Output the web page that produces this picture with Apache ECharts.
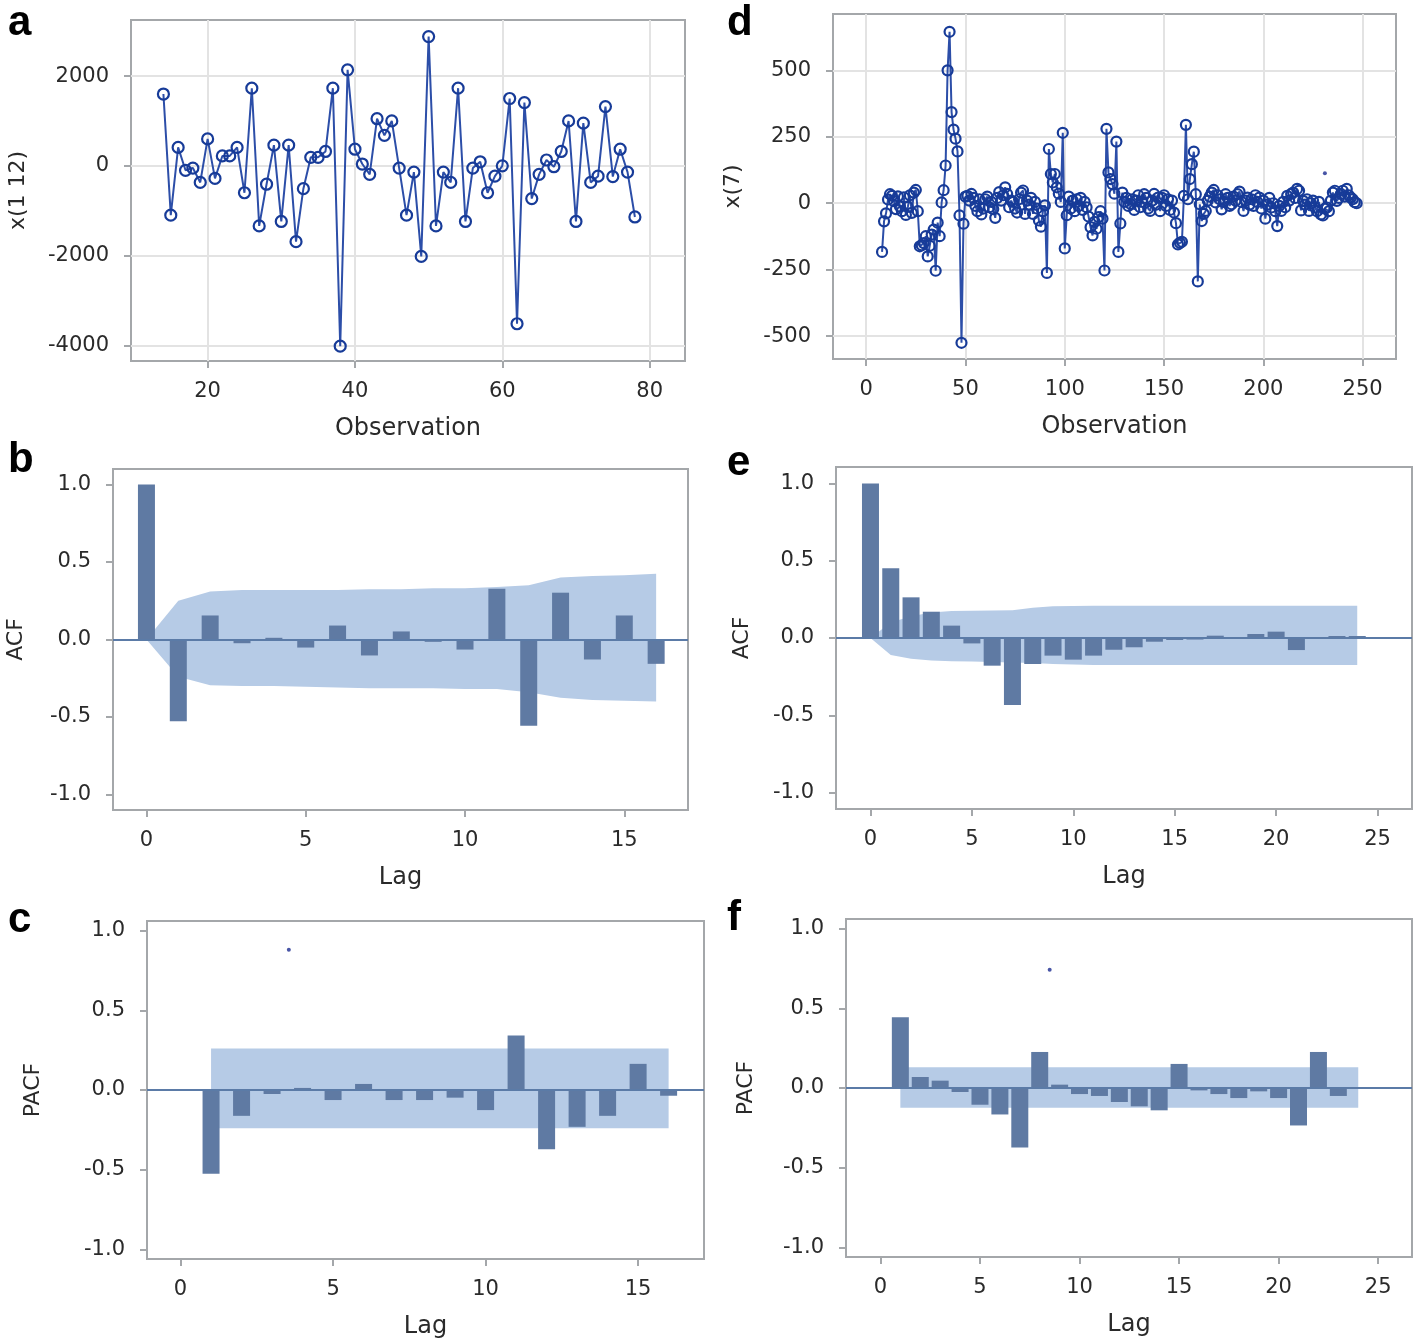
<!DOCTYPE html>
<html>
<head>
<meta charset="utf-8">
<title>x(1 12) and x(7): series, ACF, PACF</title>
<script src="https://cdn.jsdelivr.net/npm/echarts@6.0.0/dist/echarts.min.js"></script>
<style>
  html, body { margin: 0; padding: 0; background: #fff; }
  #chart { width: 1418px; height: 1344px; }
</style>
</head>
<body>
<div id="chart"></div>
<script>
// ---- panel a : x(1 12), observations 14..78
var aFirstObs = 14;
var aValues = [1600, -1100, 410, -100, -50, -370, 600, -280, 220, 220, 410, -600, 1730, -1340,
  -410, 460, -1240, 460, -1690, -510, 190, 190, 320, 1730, -4020, 2140, 370, 40, -190, 1050,
  680, 1000, -50, -1100, -140, -2020, 2880, -1340, -140, -370, 1730, -1240, -50, 90, -600,
  -230, 0, 1500, -3520, 1410, -730, -190, 130, -20, 320, 1000, -1240, 950, -370, -230, 1320,
  -240, 370, -140, -1140];

// ---- panel d : x(7), observations 8..247
var dFirstObs = 8;
var dValues = [
  -183, -68, -38, 14, 34, 28, 8, -22, 26, -12, -30, 22, -44, -14, 30, -36, 40, 50, -30,
  -162, -158, -150, -124, -200, -160, -118, -99, -254, -73, -124, 3, 49, 142, 500, 645, 343,
  277, 243, 195, -46, -525, -77, 25,
  28, 10, 35, 20, -10, -30, 15, -42, -20, 15, 25, -15, 5, -22, -55, 20, 42, 10, 30, 60,
  35, -15, 10, 5, -20, -35, 15, 40, 48, -40, 10, -5, 20, -40, 5, -20, -65, -88, -30, -8,
  -262, 204, 110, 78, 110, 60, 36, 5, 265, -170, -45,
  25, -20, 10, -30, 15, -10, 20, -25, 5, -15, -50, -90, -121, -70, -96, -52, -30, -58,
  -253, 280, 116, 91, 72, 36, 232, -183, -76, 40, 5,
  20, -10, -2, 15, -25, 10, 30, -15, 5, 34, 20, -20, -29, 10, 35, -5, 21, -30, 20, 30,
  -10, 15, -25, 10, -35, -75,
  -155, -149, -145, 28, 295, 15, 91, 147, 194, 34, -294, -4, -67, -40,
  -29, 10, 25, 40, 50, 3, 30, 15, -23, 5, 34, 20, -10, -4, 25, 10, 34, 44, 5, -29,
  10, 21, -5, 15, -10, 30, 5, 21, -20, 10, -58, -5, 20, -16, 0, -30, -86, -10, -29, 5,
  -15, 28, 10, 35, 40, 20, 54, 47, -27, 9, -5, 15, -29, 0, 10, -16, -30, 5, -42, -46,
  -20, -16, -30, 10, 40, 47, 9, 20, 35, 47, 25, 54, 30, 21, 15, 4, 0];
var dStrayPoint = [231, 113];

// ---- panel b : ACF of x(1 12), lags 0..16
var bFirstLag = 0;
var bAcf = [1.0, -0.528, 0.155, -0.024, 0.011, -0.052, 0.09, -0.103, 0.052, -0.015, -0.065,
  0.328, -0.556, 0.302, -0.129, 0.155, -0.157];
var bBandUpper = [0, 0.25, 0.31, 0.32, 0.32, 0.32, 0.32, 0.325, 0.325, 0.33, 0.33, 0.338,
  0.35, 0.40, 0.41, 0.415, 0.425];
var bBandLower = [0, -0.24, -0.295, -0.30, -0.30, -0.305, -0.31, -0.315, -0.315, -0.315,
  -0.32, -0.32, -0.34, -0.375, -0.39, -0.395, -0.40];

// ---- panel e : ACF of x(7), lags 0..24
var eFirstLag = 0;
var eAcf = [1.0, 0.451, 0.263, 0.170, 0.080, -0.035, -0.179, -0.434, -0.168, -0.114, -0.140,
  -0.114, -0.076, -0.060, -0.024, -0.013, -0.010, 0.015, 0.003, 0.026, 0.041, -0.078, 0.002,
  0.013, 0.013];
var eBandUpper = [0, 0.10, 0.14, 0.165, 0.175, 0.177, 0.178, 0.18, 0.195, 0.205, 0.207, 0.208,
  0.208, 0.208, 0.208, 0.208, 0.208, 0.208, 0.208, 0.208, 0.208, 0.208, 0.208, 0.208, 0.208];
var eBandLower = [0, -0.11, -0.135, -0.145, -0.15, -0.152, -0.155, -0.158, -0.162, -0.168,
  -0.172, -0.174, -0.175, -0.175, -0.175, -0.175, -0.175, -0.175, -0.175, -0.175, -0.175,
  -0.175, -0.175, -0.175, -0.175];

// ---- panel c : PACF of x(1 12), lags 1..16
var cFirstLag = 1;
var cPacf = [-0.525, -0.162, -0.025, 0.013, -0.063, 0.038, -0.063, -0.063, -0.048, -0.126,
  0.342, -0.372, -0.231, -0.162, 0.164, -0.036];
var cBandLags = [1, 16];
var cBandUpper = [0.26, 0.26];
var cBandLower = [-0.24, -0.24];
var cStrayPoint = [3.55, 0.88];

// ---- panel f : PACF of x(7), lags 1..24
var fFirstLag = 1;
var fPacf = [0.444, 0.069, 0.046, -0.025, -0.105, -0.166, -0.373, 0.226, 0.021, -0.038, -0.050,
  -0.088, -0.115, -0.140, 0.151, -0.015, -0.038, -0.063, -0.021, -0.063, -0.235, 0.226,
  -0.050, 0.004];
var fBandLags = [1, 24];
var fBandUpper = [0.13, 0.13];
var fBandLower = [-0.124, -0.124];
var fStrayPoint = [8.5, 0.742];

var panelLetters = ['a', 'd', 'b', 'e', 'c', 'f'];

// ---- styling
var FONT = 'DejaVu Sans';
var textDark = '#2a2a2a';
var frameGrey = '#a4a7aa';
var gridGrey = '#e3e3e3';
var lineBlue = '#2c4ea8';
var markBlue = '#173b98';
var barBlue = '#5f7aa3';
var bandBlue = '#b6cbe6';
var zeroBlue = '#5b7ba7';

function indexed(first, vals) {
  return vals.map(function (v, i) { return [first + i, v]; });
}

function xAxisFor(gi, min, max, ticks, name, split) {
  return {
    type: 'value', gridIndex: gi, min: min, max: max,
    name: name, nameLocation: 'middle', nameGap: 56,
    nameTextStyle: { fontFamily: FONT, fontSize: 24, color: textDark },
    axisLine: { show: false, onZero: false },
    axisTick: { show: true, length: 7, customValues: ticks, lineStyle: { color: frameGrey, width: 2 } },
    axisLabel: { customValues: ticks, margin: 20, fontFamily: FONT, fontSize: 21, color: textDark },
    splitLine: { show: split, lineStyle: { color: gridGrey, width: 2 } }
  };
}

function yAxisFor(gi, min, max, ticks, name, gap, split, fmt) {
  return {
    type: 'value', gridIndex: gi, min: min, max: max,
    name: name, nameLocation: 'middle', nameGap: gap,
    nameTextStyle: { fontFamily: FONT, fontSize: 22, color: textDark },
    axisLine: { show: false, onZero: false },
    axisTick: { show: true, length: 7, customValues: ticks, lineStyle: { color: frameGrey, width: 2 } },
    axisLabel: { customValues: ticks, margin: 22, fontFamily: FONT, fontSize: 21, color: textDark,
      formatter: fmt },
    splitLine: { show: split, lineStyle: { color: gridGrey, width: 2 } }
  };
}

function oneDecimal(v) { return v.toFixed(1); }
function plain(v) { return String(v); }

function seriesLine(gi, data, size) {
  return {
    type: 'line', xAxisIndex: gi, yAxisIndex: gi, data: data,
    symbol: 'circle', symbolSize: size,
    lineStyle: { color: lineBlue, width: 2 },
    itemStyle: { color: 'rgba(0,0,0,0)', borderColor: markBlue, borderWidth: 2.2 },
    z: 3
  };
}

function bandSeries(gi, lags, upper, lower) {
  return {
    type: 'custom', xAxisIndex: gi, yAxisIndex: gi, silent: true, z: 1,
    data: [[lags[0], 0]],
    renderItem: function (params, api) {
      var pts = [];
      for (var i = 0; i < lags.length; i++) pts.push(api.coord([lags[i], upper[i]]));
      for (var j = lags.length - 1; j >= 0; j--) pts.push(api.coord([lags[j], lower[j]]));
      return { type: 'polygon', shape: { points: pts }, style: { fill: bandBlue } };
    }
  };
}

function barSeries(gi, data) {
  return {
    type: 'bar', xAxisIndex: gi, yAxisIndex: gi, data: data, barWidth: 17,
    itemStyle: { color: barBlue }, z: 2,
    markLine: {
      silent: true, symbol: 'none', label: { show: false }, animation: false,
      lineStyle: { color: zeroBlue, width: 2, type: 'solid' },
      data: [{ yAxis: 0 }]
    }
  };
}

function strayDot(gi, p) {
  return {
    type: 'scatter', xAxisIndex: gi, yAxisIndex: gi, data: [p],
    symbolSize: 4, itemStyle: { color: '#1a2a90' }, z: 4
  };
}

function bandLags(first, n) {
  var out = [];
  for (var i = 0; i < n; i++) out.push(first + i);
  return out;
}

var chart = echarts.init(document.getElementById('chart'));

var frame = { show: true, borderColor: frameGrey, borderWidth: 2, backgroundColor: 'transparent' };
var grids = [
  { left: 131, top: 20, width: 554, height: 341 },
  { left: 833, top: 14, width: 563, height: 345 },
  { left: 113, top: 469, width: 575, height: 341 },
  { left: 836, top: 467, width: 576, height: 342 },
  { left: 147, top: 921, width: 557, height: 338 },
  { left: 846, top: 919, width: 566, height: 338 }
].map(function (g) { return Object.assign({}, frame, g); });

var letterPos = [[8, 2], [727, 2], [8, 439], [727, 442], [8, 899], [727, 897]];

var acfTicks = [-1, -0.5, 0, 0.5, 1];

chart.setOption({
  animation: false,
  backgroundColor: '#fff',
  grid: grids,
  xAxis: [
    xAxisFor(0, 9.6, 84.8, [20, 40, 60, 80], 'Observation', true),
    xAxisFor(1, -16.7, 266.8, [0, 50, 100, 150, 200, 250], 'Observation', true),
    xAxisFor(2, -1.05, 17.0, [0, 5, 10, 15], 'Lag', false),
    xAxisFor(3, -1.7, 26.7, [0, 5, 10, 15, 20, 25], 'Lag', false),
    xAxisFor(4, -1.1, 17.16, [0, 5, 10, 15], 'Lag', false),
    xAxisFor(5, -1.73, 26.7, [0, 5, 10, 15, 20, 25], 'Lag', false)
  ],
  yAxis: [
    yAxisFor(0, -4350, 3250, [-4000, -2000, 0, 2000], 'x(1 12)', 102, true, plain),
    yAxisFor(1, -586, 712, [-500, -250, 0, 250, 500], 'x(7)', 89, true, plain),
    yAxisFor(2, -1.1, 1.1, acfTicks, 'ACF', 86, false, oneDecimal),
    yAxisFor(3, -1.106, 1.106, acfTicks, 'ACF', 83, false, oneDecimal),
    yAxisFor(4, -1.06, 1.06, acfTicks, 'PACF', 103, false, oneDecimal),
    yAxisFor(5, -1.06, 1.06, acfTicks, 'PACF', 89, false, oneDecimal)
  ],
  series: [
    seriesLine(0, indexed(aFirstObs, aValues), 11),
    seriesLine(1, indexed(dFirstObs, dValues), 10),
    strayDot(1, dStrayPoint),
    bandSeries(2, bandLags(bFirstLag, bBandUpper.length), bBandUpper, bBandLower),
    barSeries(2, indexed(bFirstLag, bAcf)),
    bandSeries(3, bandLags(eFirstLag, eBandUpper.length), eBandUpper, eBandLower),
    barSeries(3, indexed(eFirstLag, eAcf)),
    bandSeries(4, cBandLags, cBandUpper, cBandLower),
    barSeries(4, indexed(cFirstLag, cPacf)),
    strayDot(4, cStrayPoint),
    bandSeries(5, fBandLags, fBandUpper, fBandLower),
    barSeries(5, indexed(fFirstLag, fPacf)),
    strayDot(5, fStrayPoint)
  ],
  graphic: panelLetters.map(function (t, i) {
    return {
      type: 'text', left: letterPos[i][0], top: letterPos[i][1],
      style: { text: t, font: 'bold 42px "Liberation Sans"', fill: '#000' }
    };
  })
});
</script>
</body>
</html>
